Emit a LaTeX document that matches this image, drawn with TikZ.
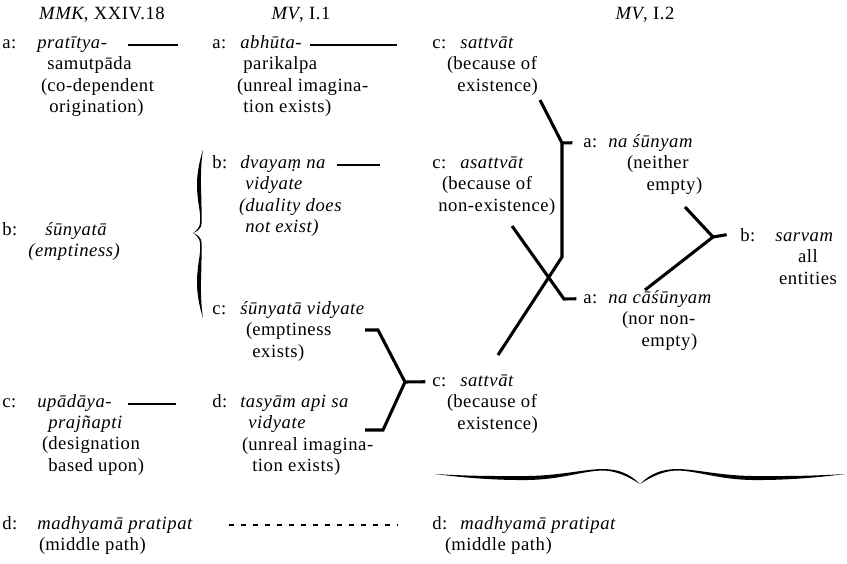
\documentclass[tikz,border=0pt]{standalone}
\usepackage{fontspec}
\setmainfont{Liberation Serif}[LetterSpace=3]
\newcommand{\diagramFont}{\fontsize{14}{16.1}\selectfont}
\newcommand{\entryHead}[6]{%
  \node[labelStyle] (#1) at (#2,#4) {#5};
  \node[headStyle] (#1-head) at (#3,#4) {#6};
}
\newcommand{\braceHalf}[1]{%
  \fill[braceStyle] (0,0) .. controls (0.15,2) and (0.3,2.2) .. (0.45,2)
    .. controls (0.62,1.5) and (0.72,#1-0.5) .. (0.82,#1-0.75)
    .. controls (0.9,#1-0.5) and (0.95,0) .. (1,10)
    .. controls (0.94,2) and (0.88,#1+1) .. (0.82,#1+0.75)
    .. controls (0.72,#1+1) and (0.62,5.5) .. (0.45,6)
    .. controls (0.3,6.3) and (0.15,4) .. (0,0) -- cycle;
}

\begin{document}
\begin{tikzpicture}[x=0.75pt,y=-0.75pt,%
  labelStyle/.style={anchor=base west,inner sep=0pt,font=\diagramFont},%
  headStyle/.style={anchor=base west,inner sep=0pt,font=\diagramFont\itshape},%
  bodyStyle/.style={anchor=north west,inner sep=0pt,align=left,yshift=-6.4pt,font=\diagramFont},%
  bodyItStyle/.style={bodyStyle,font=\diagramFont\itshape},%
  titleStyle/.style={anchor=base,inner sep=0pt,font=\diagramFont},%
  ruleStyle/.style={line width=1.3pt},%
  dashStyle/.style={line width=0.9pt,dash pattern=on 3.75pt off 5.25pt},%
  linkStyle/.style={line width=2.3pt},%
  braceStyle/.style={fill=black}%
]
\useasboundingbox (0,0) rectangle (847,564);
%
% Column titles.
\node[titleStyle] (mmkTitle) at (102,20) {\textit{MMK}, XXIV.18};
\node[titleStyle] (mvOneTitle) at (301,20) {\textit{MV}, I.1};
\node[titleStyle] (mvTwoTitle) at (645,20) {\textit{MV}, I.2};
%
% MMK, XXIV.18.
\entryHead{mmkA}{2}{37}{48}{a:}{pratītya-}
\node[bodyStyle] (mmkA-body) at (47,48) {samutpāda\\\llap{(}co-dependent\\\hspace*{1.5pt}origination)};
\entryHead{mmkB}{2}{45}{235}{b:}{śūnyatā}
\node[bodyItStyle] (mmkB-body) at (28,235) {(emptiness)};
\entryHead{mmkC}{2}{37}{407}{c:}{upādāya-}
\node[bodyStyle] (mmkC-body) at (48,407) {\textit{prajñapti}\\\llap{(}designation\\based upon)};
\entryHead{mmkD}{2}{37}{529}{d:}{madhyamā pratipat}
\node[bodyStyle] (mmkD-body) at (45,529) {\llap{(}middle path)};
%
% MV, I.1.
\entryHead{mvOneA}{212}{240}{48}{a:}{abhūta-}
\node[bodyStyle] (mvOneA-body) at (243,48) {parikalpa\\\llap{(}unreal imagina-\\tion exists)};
\entryHead{mvOneB}{212}{240}{168}{b:}{dvayaṃ na}
\node[bodyItStyle] (mvOneB-body) at (245,168) {vidyate\\\llap{(}duality does\\not exist)};
\entryHead{mvOneC}{212}{240}{314}{c:}{śūnyatā vidyate}
\node[bodyStyle] (mvOneC-body) at (252,314) {\llap{(}emptiness\\exists)};
\entryHead{mvOneD}{212}{240}{407}{d:}{tasyām api sa}
\node[bodyStyle] (mvOneD-body) at (248,407) {\textit{vidyate}\\\llap{(}unreal imagina-\\\hspace*{3pt}tion exists)};
%
% MV, I.2.
\entryHead{mvTwoA}{432}{460}{48}{c:}{sattvāt}
\node[bodyStyle] (mvTwoA-body) at (453,48) {\llap{(}because of\\\hspace*{3pt}existence)};
\entryHead{mvTwoB}{432}{460}{168}{c:}{asattvāt}
\node[bodyStyle] (mvTwoB-body) at (448,168) {\llap{(}because of\\\hspace*{-7.5pt}non-existence)};
\entryHead{mvTwoC}{432}{460}{386}{c:}{sattvāt}
\node[bodyStyle] (mvTwoC-body) at (453,386) {\llap{(}because of\\\hspace*{3pt}existence)};
\entryHead{mvTwoD}{432}{460}{529}{d:}{madhyamā pratipat}
\node[bodyStyle] (mvTwoD-body) at (451,529) {\llap{(}middle path)};
\entryHead{naSunyam}{583}{608}{147}{a:}{na śūnyam}
\node[bodyStyle] (naSunyam-body) at (633,147) {\llap{(}neither\\\hspace*{10pt}empty)};
\entryHead{naCasunyam}{583}{608}{303}{a:}{na cāśūnyam}
\node[bodyStyle] (naCasunyam-body) at (628,303) {\llap{(}nor non-\\\hspace*{10pt}empty)};
\entryHead{sarvam}{740}{775}{241}{b:}{sarvam}
\node[bodyStyle,anchor=north,align=center] (sarvam-body) at (808,241) {all\\entities};
%
% Short rules after the first entries.
\coordinate (mmkA-ruleL) at (128,45);
\coordinate (mmkA-ruleR) at (178,45);
\coordinate (mvOneA-ruleL) at (310,45);
\coordinate (mvOneA-ruleR) at (397,45);
\coordinate (mvOneB-ruleL) at (337,165);
\coordinate (mvOneB-ruleR) at (380,165);
\coordinate (mmkC-ruleL) at (128,404);
\coordinate (mmkC-ruleR) at (176,404);
\draw[ruleStyle] (mmkA-ruleL) -- (mmkA-ruleR);
\draw[ruleStyle] (mvOneA-ruleL) -- (mvOneA-ruleR);
\draw[ruleStyle] (mvOneB-ruleL) -- (mvOneB-ruleR);
\draw[ruleStyle] (mmkC-ruleL) -- (mmkC-ruleR);
% The middle path.
\draw[dashStyle] ([xshift=27pt,yshift=3pt]mmkD-head.base east) -- ([xshift=-26pt,yshift=3pt]mvTwoD.base west);
%
% Bracket from c and d of MV I.1.
\coordinate (mTopStub) at (365,330);
\coordinate (mTopCorner) at (378,330);
\coordinate (mJoint) at (405,382);
\coordinate (mLowCorner) at (383,430);
\coordinate (mLowStub) at (365,430);
\draw[linkStyle] (mTopStub) -- (mTopCorner) -- (mJoint) -- (mLowCorner) -- (mLowStub);
\draw[linkStyle] (mJoint) -- ([xshift=-5pt]mvTwoC.west);
%
% The crossing links.
\coordinate (xTopStart) at (540,100);
\coordinate (xJointTop) at (562,143);
\coordinate (xBend) at (562,257);
\coordinate (xLowEnd) at (498,355);
\coordinate (xMidStart) at (512,226);
\coordinate (xJointLow) at (564,299);
\draw[linkStyle] (xTopStart) -- (xJointTop) -- (xBend) -- (xLowEnd);
\draw[linkStyle] (xJointTop) -- ([xshift=-8pt]naSunyam.west);
\draw[linkStyle] (xMidStart) -- (xJointLow) -- ([xshift=-5pt]naCasunyam.west);
%
% Bracket to sarvam.
\coordinate (rTopStart) at (685,207);
\coordinate (rJoint) at (713,237);
\coordinate (rLowEnd) at (645,290);
\draw[linkStyle] (rTopStart) -- (rJoint) -- (rLowEnd);
\draw[linkStyle] (rJoint) -- ([xshift=-10pt]sarvam.west);
%
% The brace grouping b and c of MV I.1.
\begin{scope}[shift={(203,150)},x={(0pt,-62.25pt)},y={(-0.75pt,0pt)}]
  \braceHalf{2}
\end{scope}
\begin{scope}[shift={(203,318)},x={(0pt,63.75pt)},y={(-0.75pt,0pt)}]
  \braceHalf{2}
\end{scope}
% The brace under MV I.2.
\begin{scope}[shift={(435,474)},x={(153.75pt,0pt)},y={(0pt,-0.75pt)}]
  \braceHalf{-4.25}
\end{scope}
\begin{scope}[shift={(845,474)},x={(-153.75pt,0pt)},y={(0pt,-0.75pt)}]
  \braceHalf{-4.25}
\end{scope}
\end{tikzpicture}
\end{document}
